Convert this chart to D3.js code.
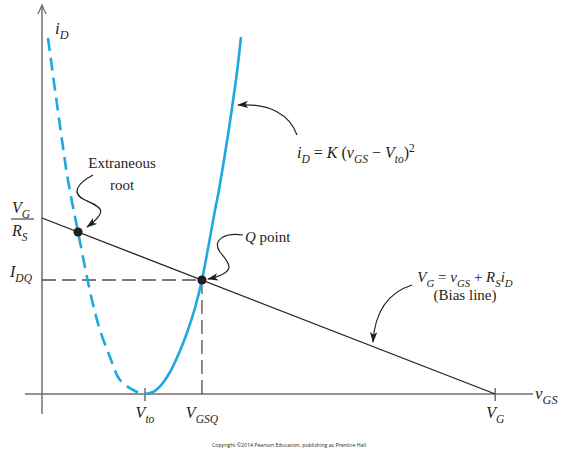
<!DOCTYPE html>
<html>
<head>
<meta charset="utf-8">
<script src="https://cdn.jsdelivr.net/npm/d3@7"></script>
<style>
  body { margin: 0; background: #fff; }
  svg { display: block; }
  text { font-family: "Liberation Serif", "Times New Roman", serif; fill: #231f20; }
</style>
</head>
<body>
<svg id="chart" width="564" height="452"></svg>
<script>
// Operating values (vGS in V, iD in mA)
const Vto = 1.0;
const VG = 4.4;
const RS = 1.0;
const VGSQ = 1.553;
const IDQ = 2.85;
const rootV = 0.35;
const rootI = 4.05;

// Transfer characteristic, physical branch (vGS > Vto)
const vSolid = [1.0, 1.078, 1.146, 1.243, 1.34, 1.417, 1.485, 1.553, 1.68, 1.718, 1.883, 1.932];
const iSolid = [0, 0.05, 0.19, 0.55, 1.08, 1.6, 2.15, 2.85, 4.60, 5.10, 7.85, 8.925];

// Mirror branch of the square law (vGS < Vto)
const vDashed = [0.058, 0.194, 0.252, 0.35, 0.485, 0.563, 0.66, 0.757, 0.922, 1.0];
const iDashed = [8.9, 6.35, 5.35, 4.05, 2.35, 1.6, 0.925, 0.35, 0.05, 0];

// Bias line end points: iD = (VG - vGS) / RS
const vBias = [0, VG];

const svg = d3.select("#chart");
const x = d3.scaleLinear().domain([-0.165, 4.767]).range([25, 533]);
const y = d3.scaleLinear().domain([-0.5, 9.725]).range([414, 5]);

const blue = "#1ea7e1";
const ink = "#231f20";

// Arrowhead used by the call-out leaders
const defs = svg.append("defs");
defs.append("marker")
  .attr("id", "tip").attr("viewBox", "0 0 12 8")
  .attr("refX", 11).attr("refY", 4)
  .attr("markerWidth", 11).attr("markerHeight", 8)
  .attr("markerUnits", "userSpaceOnUse")
  .attr("orient", "auto")
  .append("path").attr("d", "M0,0 L12,4 L0,8 L3,4 Z").attr("fill", ink);

// Axes
const axisColor = "#6d6e71";
svg.append("line")
  .attr("x1", x(0)).attr("x2", x(0))
  .attr("y1", y(-0.5)).attr("y2", y(9.725))
  .attr("stroke", axisColor).attr("stroke-width", 1.5);
svg.append("line")
  .attr("x1", x(-0.165)).attr("x2", x(4.767))
  .attr("y1", y(0)).attr("y2", y(0))
  .attr("stroke", axisColor).attr("stroke-width", 1.5);
// arrowhead on the iD axis
svg.append("path")
  .attr("d", `M${x(0) - 4},${y(9.725) + 9} L${x(0)},${y(9.725)} L${x(0) + 4},${y(9.725) + 9}`)
  .attr("fill", "none").attr("stroke", axisColor).attr("stroke-width", 1.3);

// Tick marks at Vto and VG
svg.selectAll("line.tick").data([Vto, VG]).enter().append("line")
  .attr("class", "tick")
  .attr("x1", d => x(d)).attr("x2", d => x(d))
  .attr("y1", y(0) - 6).attr("y2", y(0) + 7)
  .attr("stroke", axisColor).attr("stroke-width", 1.5);

// Q-point projection lines
const dashInk = "#4d4d4f";
svg.append("line")
  .attr("x1", x(0)).attr("x2", x(VGSQ))
  .attr("y1", y(IDQ)).attr("y2", y(IDQ))
  .attr("stroke", dashInk).attr("stroke-width", 1.3).attr("stroke-dasharray", "14,6");
svg.append("line")
  .attr("x1", x(VGSQ)).attr("x2", x(VGSQ))
  .attr("y1", y(IDQ)).attr("y2", y(0))
  .attr("stroke", dashInk).attr("stroke-width", 1.3).attr("stroke-dasharray", "14,6");

// Bias line
svg.append("path")
  .datum(vBias)
  .attr("d", d3.line().x(v => x(v)).y(v => y((VG - v) / RS)))
  .attr("fill", "none").attr("stroke", ink).attr("stroke-width", 1.3);

// Square-law curve
const curve = d3.line().x(d => x(d[0])).y(d => y(d[1])).curve(d3.curveCatmullRom.alpha(0.5));
svg.append("path")
  .datum(vDashed.map((v, k) => [v, iDashed[k]]))
  .attr("d", curve)
  .attr("fill", "none").attr("stroke", blue).attr("stroke-width", 2.6)
  .attr("stroke-dasharray", "13,7");
svg.append("path")
  .datum(vSolid.map((v, k) => [v, iSolid[k]]))
  .attr("d", curve)
  .attr("fill", "none").attr("stroke", blue).attr("stroke-width", 2.6);

// Intersections
svg.selectAll("circle.pt").data([[rootV, rootI], [VGSQ, IDQ]]).enter().append("circle")
  .attr("class", "pt")
  .attr("cx", d => x(d[0])).attr("cy", d => y(d[1]))
  .attr("r", 4.6).attr("fill", ink);

// Text with italic parts, subscripts and superscripts
function rich(px, py, parts, size, anchor) {
  const t = svg.append("text")
    .attr("x", px).attr("y", py)
    .attr("font-size", size)
    .attr("text-anchor", anchor || "start");
  let shift = 0;
  parts.forEach(p => {
    const target = p.sub ? size * 0.3 : p.sup ? -size * 0.4 : 0;
    const s = t.append("tspan").text(p.t).attr("dy", target - shift);
    if (p.sub || p.sup) s.attr("font-size", size * 0.72);
    if (p.i) s.attr("font-style", "italic");
    shift = target;
  });
  return t;
}

// Axis titles
rich(x(0) + 13, 34, [{ t: "i", i: 1 }, { t: "D", i: 1, sub: 1 }], 17);
rich(x(4.767) + 2, y(0) + 5, [{ t: "v", i: 1 }, { t: "GS", i: 1, sub: 1 }], 17);

// Axis value labels
rich(x(Vto), y(0) + 24, [{ t: "V", i: 1 }, { t: "to", i: 1, sub: 1 }], 16, "middle");
rich(x(VGSQ), y(0) + 24, [{ t: "V", i: 1 }, { t: "GSQ", i: 1, sub: 1 }], 16, "middle");
rich(x(VG), y(0) + 24, [{ t: "V", i: 1 }, { t: "G", i: 1, sub: 1 }], 16, "middle");
rich(10, y(IDQ) - 3, [{ t: "I", i: 1 }, { t: "DQ", i: 1, sub: 1 }], 16);
rich(12, y(VG / RS) - 5, [{ t: "V", i: 1 }, { t: "G", i: 1, sub: 1 }], 16);
svg.append("line")
  .attr("x1", 11).attr("x2", 34)
  .attr("y1", y(VG / RS) + 1).attr("y2", y(VG / RS) + 1)
  .attr("stroke", ink).attr("stroke-width", 1);
rich(12, y(VG / RS) + 18, [{ t: "R", i: 1 }, { t: "S", i: 1, sub: 1 }], 16);

// Call-outs
rich(122, 168, [{ t: "Extraneous" }], 15, "middle");
rich(122, 190, [{ t: "root" }], 15, "middle");
rich(245, 242, [{ t: "Q", i: 1 }, { t: " point" }], 15);
rich(297, 158, [
  { t: "i", i: 1 }, { t: "D", i: 1, sub: 1 }, { t: " = " }, { t: "K", i: 1 }, { t: " (" },
  { t: "v", i: 1 }, { t: "GS", i: 1, sub: 1 }, { t: " \u2212 " }, { t: "V", i: 1 },
  { t: "to", i: 1, sub: 1 }, { t: ")" }, { t: "2", sup: 1 }
], 16);
rich(465, 282, [
  { t: "V", i: 1 }, { t: "G", i: 1, sub: 1 }, { t: " = " }, { t: "v", i: 1 },
  { t: "GS", i: 1, sub: 1 }, { t: " + " }, { t: "R", i: 1 }, { t: "S", i: 1, sub: 1 },
  { t: "i", i: 1 }, { t: "D", i: 1, sub: 1 }
], 15, "middle");
rich(465, 300, [{ t: "(Bias line)" }], 15, "middle");

// Leader arrows
const rx = x(rootV), ry = y(rootI);
const qx = x(VGSQ), qy = y(IDQ);
const leaders = [
  `M${rx + 15},175 C${rx},183 ${rx - 8},193 ${rx + 7},200 C${rx + 22},207 ${rx + 32},210 ${rx + 9},${ry - 5}`,
  `M${qx + 41},${qy - 45} C${qx + 23},${qy - 48} ${qx + 10},${qy - 40} ${qx + 18},${qy - 28} C${qx + 26},${qy - 18} ${qx + 38},${qy - 8} ${qx + 6},${qy - 1}`,
  `M297,135 C290,115 270,103 238,105`,
  `M412,285 C390,292 375,310 373,342`
];
svg.selectAll("path.leader").data(leaders).enter().append("path")
  .attr("class", "leader")
  .attr("d", d => d)
  .attr("fill", "none").attr("stroke", ink).attr("stroke-width", 1.2)
  .attr("marker-end", "url(#tip)");

// Credit line
svg.append("text")
  .attr("x", 289).attr("y", 447)
  .attr("text-anchor", "middle")
  .style("font-family", "'Open Sans', 'Liberation Sans', sans-serif")
  .style("font-size", "5.2px")
  .text("Copyright \u00a92014 Pearson Education, publishing as Prentice Hall");
</script>
</body>
</html>
